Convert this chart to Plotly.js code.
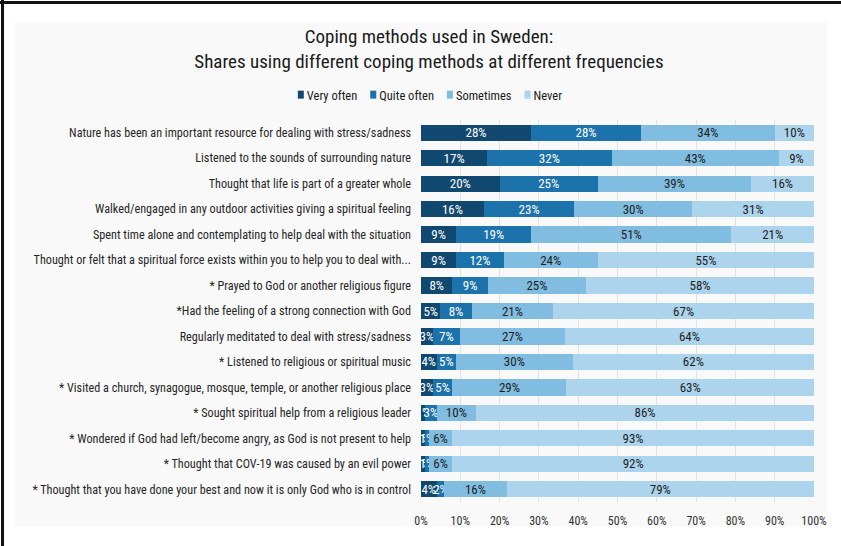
<!DOCTYPE html>
<html>
<head>
<meta charset="utf-8">
<script src="https://cdn.plot.ly/plotly-3.0.1.min.js"></script>
<style>
  html, body { margin: 0; padding: 0; background: #ffffff; }
  #wrap { position: relative; width: 841px; height: 546px; overflow: hidden; }
  #topline { position: absolute; left: 0; top: 1px; width: 841px; height: 3px; background: #111; }
  #leftline { position: absolute; left: 1px; top: 0; width: 3px; height: 546px; background: #111; }
  #panel { position: absolute; left: 15px; top: 22px; width: 812px; height: 505px; background: #f9f9f9; }
  #chart { position: absolute; left: 0; top: 0; width: 841px; height: 546px; }
</style>
</head>
<body>
<div id="wrap">
  <div id="panel"></div>
  <div id="topline"></div>
  <div id="leftline"></div>
  <div id="chart"></div>
</div>
<script>
const categories = [
  "Nature has been an important resource for dealing with stress/sadness",
  "Listened to the sounds of surrounding nature",
  "Thought that life is part of a greater whole",
  "Walked/engaged in any outdoor activities giving a spiritual feeling",
  "Spent time alone and contemplating to help deal with the situation",
  "Thought or felt that a spiritual force exists within you to help you to deal with...",
  "* Prayed to God or another religious figure",
  "*Had the feeling of a strong connection with God",
  "Regularly meditated to deal with stress/sadness",
  "* Listened to religious or spiritual music",
  "* Visited a church, synagogue, mosque, temple, or another religious place",
  "* Sought spiritual help from a religious leader",
  "* Wondered if God had left/become angry, as God is not present to help",
  "* Thought that COV-19 was caused by an evil power",
  "* Thought that you have done your best and now it is only God who is in control"
];
const veryOften  = [28, 17, 20, 16,  9,  9,  8,  5,  3,  4,  3,  1,  1,  1,  4];
const quiteOften = [28, 32, 25, 23, 19, 12,  9,  8,  7,  5,  5,  3,  1,  1,  2];
const sometimes  = [34, 43, 39, 30, 51, 24, 25, 21, 27, 30, 29, 10,  6,  6, 16];
const never      = [10,  9, 16, 31, 21, 55, 58, 67, 64, 62, 63, 86, 93, 92, 79];
const seriesNames = ["Very often", "Quite often", "Sometimes", "Never"];
const xTickVals = [0,10,20,30,40,50,60,70,80,90,100];

const colors = ["#11486f", "#1c72ab", "#80bde1", "#acd4ec"];
const textColors = ["#ffffff", "#ffffff", "#1e1e1e", "#1e1e1e"];
const FONT = "'Liberation Sans Narrow', 'Arial Narrow', 'Roboto Condensed', 'Noto Sans', sans-serif";

const allSeries = [veryOften, quiteOften, sometimes, never];
const traces = allSeries.map((vals, i) => ({
  type: "bar",
  orientation: "h",
  name: seriesNames[i],
  y: categories,
  x: vals,
  text: vals.map(v => v + "%"),
  textposition: "inside",
  insidetextanchor: "middle",
  textangle: 0,
  textfont: { family: FONT, size: 13, color: textColors[i] },
  marker: { color: colors[i], line: { width: 0 } },
  hoverinfo: "skip"
}));

const W = 841, H = 546;
const L = 421, R = 27, T = 120, B = 44;
const pw = W - L - R, ph = H - T - B;

const layout = {
  width: W, height: H,
  margin: { l: L, r: R, t: T, b: B, pad: 0 },
  paper_bgcolor: "rgba(0,0,0,0)",
  plot_bgcolor: "rgba(0,0,0,0)",
  barmode: "stack",
  barnorm: "percent",
  bargap: 0.36,
  uniformtext: { mode: "show", minsize: 13 },
  title: {
    text: "Coping methods used in Sweden:<br>Shares using different coping methods at different frequencies",
    font: { family: FONT, size: 19, color: "#1a1a1a" },
    x: 429 / W, xref: "container", xanchor: "center",
    y: 1 - 43 / H, yref: "container", yanchor: "middle"
  },
  showlegend: true,
  legend: {
    orientation: "h",
    x: (430 - L) / pw, xanchor: "center",
    y: 1 + (T - 95) / ph, yanchor: "middle",
    font: { family: FONT, size: 12.5, color: "#1a1a1a" },
    traceorder: "normal",
    itemwidth: 30,
    bgcolor: "rgba(0,0,0,0)"
  },
  xaxis: {
    range: [0, 100],
    tickvals: xTickVals,
    ticktext: xTickVals.map(v => v + "%"),
    showgrid: true,
    gridcolor: "#e2e2e2",
    gridwidth: 1,
    zeroline: false,
    showline: false,
    ticks: "",
    ticklabelstandoff: 10,
    tickfont: { family: FONT, size: 12, color: "#333333" },
    fixedrange: true
  },
  yaxis: {
    autorange: "reversed",
    type: "category",
    showgrid: false,
    zeroline: false,
    showline: false,
    ticks: "",
    ticklabelstandoff: 9,
    tickfont: { family: FONT, size: 12.2, color: "#262626" },
    fixedrange: true
  }
};

Plotly.newPlot("chart", traces, layout, { displayModeBar: false, staticPlot: true }).then(gd => {
  try {
    // Compact the legend entries (small swatch close to its label), like the original.
    const groups = Array.from(gd.querySelectorAll(".legend .traces"));
    if (!groups.length) return;
    const parse = g => {
      const m = /translate\(\s*([-\d.]+)[ ,]+([-\d.]+)/.exec(g.getAttribute("transform") || "");
      return m ? [parseFloat(m[1]), parseFloat(m[2])] : [0, 0];
    };
    const y0 = parse(groups[0])[1];
    let cursor = parse(groups[0])[0];
    groups.forEach(g => {
      g.querySelectorAll(".legendpoints path").forEach(p => {
        p.setAttribute("d", "M3,4H-3V-4H3Z");
        p.setAttribute("transform", "translate(34,0)");
      });
      const txt = g.querySelector("text.legendtext");
      const tw = txt ? txt.getComputedTextLength() : 40;
      g.setAttribute("transform", "translate(" + cursor + "," + y0 + ")");
      // next swatch starts 13px after this label ends (swatch left edge sits at x=31 in the entry)
      cursor += 40 + tw + 13 - 31;
    });
    const firstSym = groups[0].querySelector(".legendpoints path");
    const lastTxt = groups[groups.length - 1].querySelector("text.legendtext");
    const left = firstSym.getBoundingClientRect().left;
    const right = lastTxt.getBoundingClientRect().right;
    const chartLeft = gd.getBoundingClientRect().left;
    const delta = 430 - ((left + right) / 2 - chartLeft);
    groups.forEach(g => {
      const [x, y] = parse(g);
      g.setAttribute("transform", "translate(" + (x + delta) + "," + y + ")");
    });
    const clip = gd.querySelector(".legend .scrollbox");
    if (clip) clip.removeAttribute("clip-path");
  } catch (e) { /* keep default legend */ }
});
</script>
</body>
</html>
